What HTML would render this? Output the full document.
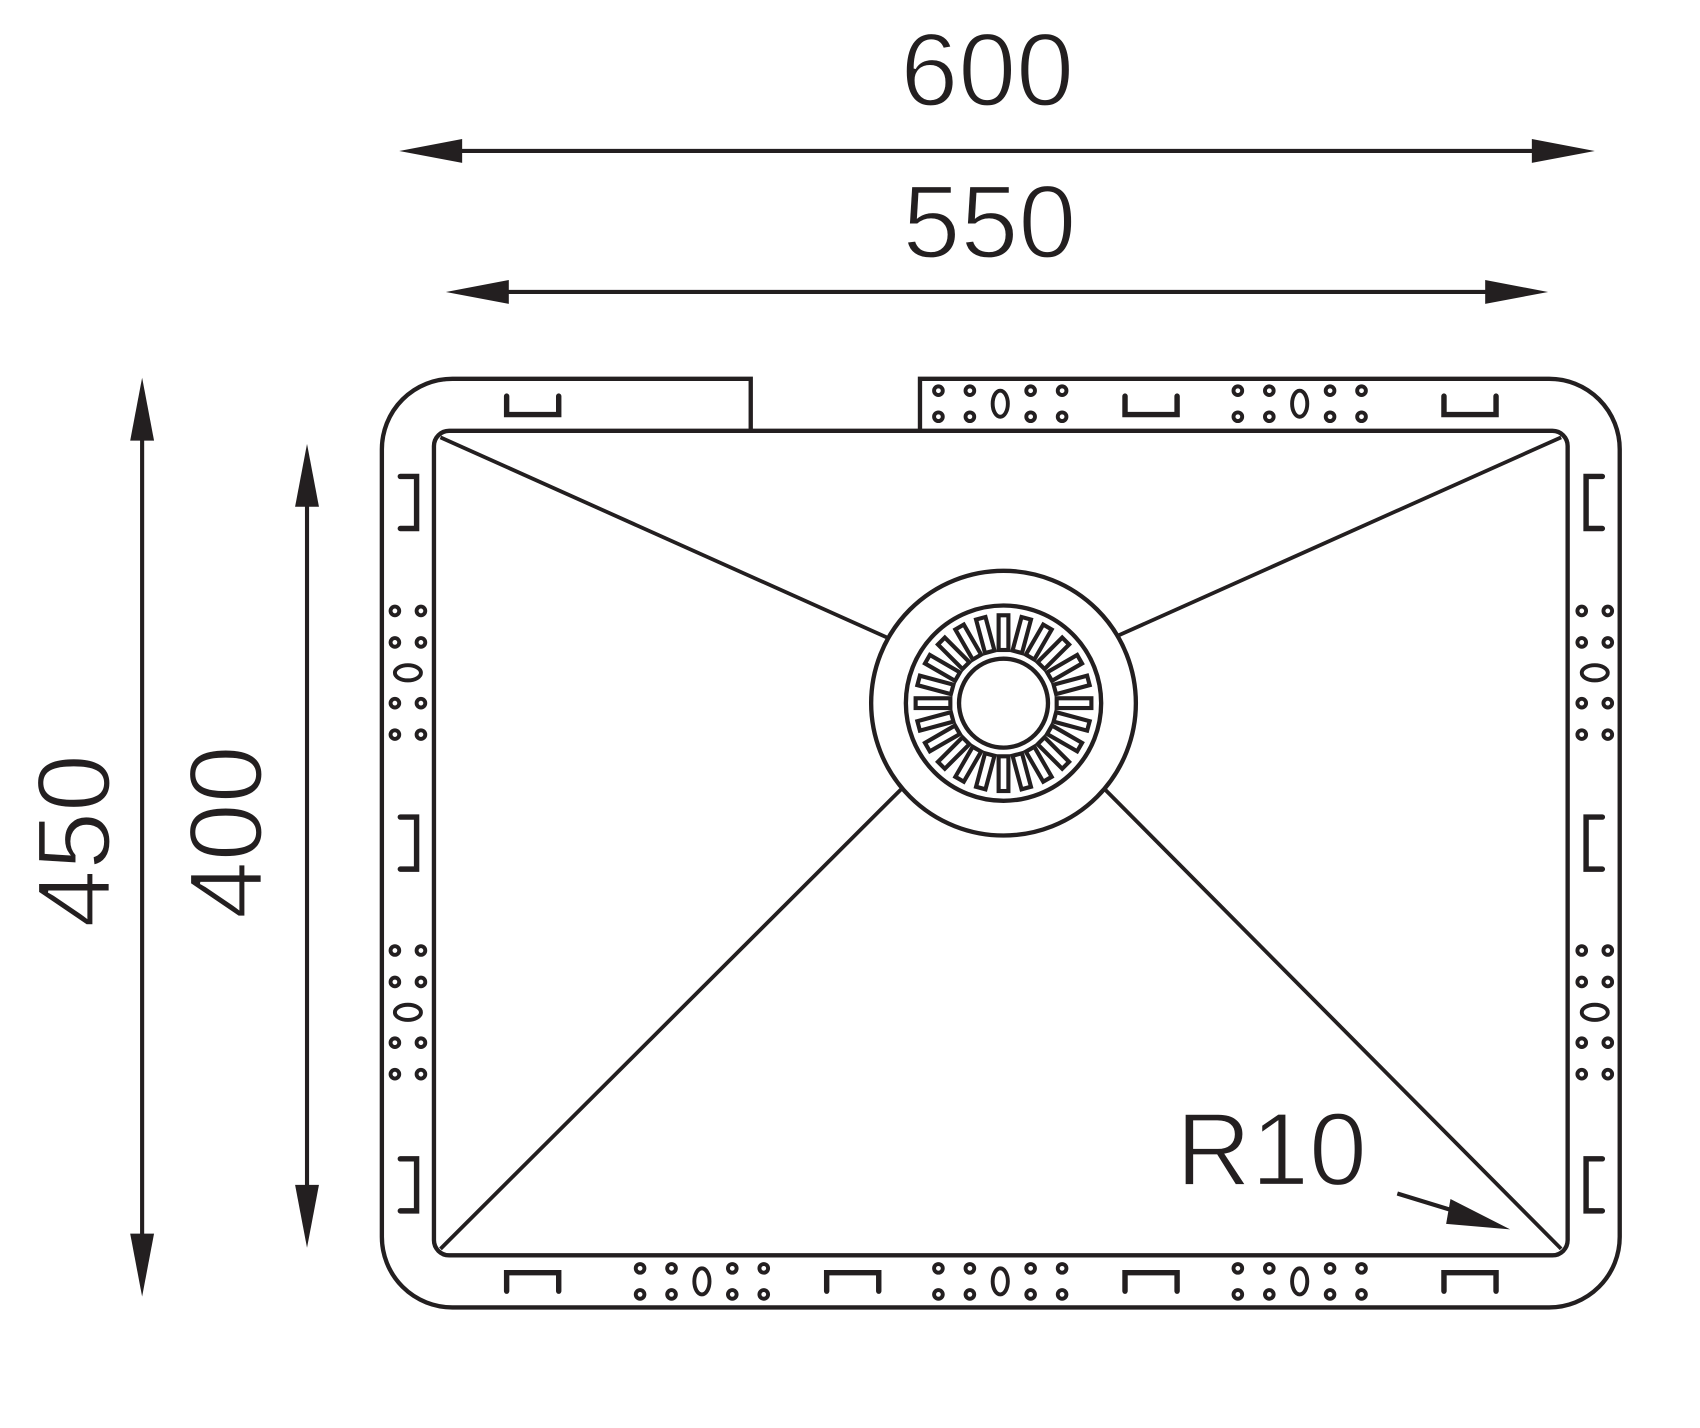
<!DOCTYPE html>
<html><head><meta charset="utf-8"><style>html,body{margin:0;padding:0;background:#fff}svg{display:block}</style></head>
<body>
<svg width="1700" height="1428" viewBox="0 0 1567 1316" xmlns="http://www.w3.org/2000/svg">
<defs>
<g id="hc">
<circle cx="-57" cy="-12" r="4"/><circle cx="-28" cy="-12" r="4"/><circle cx="28" cy="-12" r="4"/><circle cx="57" cy="-12" r="4"/>
<circle cx="-57" cy="12" r="4"/><circle cx="-28" cy="12" r="4"/><circle cx="28" cy="12" r="4"/><circle cx="57" cy="12" r="4"/>
<ellipse cx="0" cy="0" rx="7" ry="12"/>
</g>
</defs>
<g fill="none" stroke="#231f20" stroke-width="4">
<path d="M692,397 L692,349 L417,349 A65,65 0 0 0 352,414 L352,1140 A65,65 0 0 0 417,1205 L1428,1205 A65,65 0 0 0 1493,1140 L1493,414 A65,65 0 0 0 1428,349 L848,349 L848,397"/>
<rect x="400" y="397" width="1045" height="760" rx="14"/>
<line x1="406" y1="403" x2="821" y2="589" stroke-width="3.5"/>
<line x1="1439" y1="403" x2="1030" y2="586" stroke-width="3.5"/>
<line x1="406" y1="1151" x2="831" y2="727" stroke-width="3.5"/>
<line x1="1439" y1="1151" x2="1018" y2="727" stroke-width="3.5"/>
<circle cx="925" cy="648" r="122" fill="#fff"/>
<circle cx="925" cy="648" r="90"/>
<circle cx="925" cy="648" r="41"/>
</g>
<g fill="none" stroke="#231f20" stroke-width="3.8">
<g transform="translate(925,648)">
<rect x="-4.5" y="-81" width="9" height="32" transform="rotate(0)"/>
<rect x="-4.5" y="-81" width="9" height="32" transform="rotate(15)"/>
<rect x="-4.5" y="-81" width="9" height="32" transform="rotate(30)"/>
<rect x="-4.5" y="-81" width="9" height="32" transform="rotate(45)"/>
<rect x="-4.5" y="-81" width="9" height="32" transform="rotate(60)"/>
<rect x="-4.5" y="-81" width="9" height="32" transform="rotate(75)"/>
<rect x="-4.5" y="-81" width="9" height="32" transform="rotate(90)"/>
<rect x="-4.5" y="-81" width="9" height="32" transform="rotate(105)"/>
<rect x="-4.5" y="-81" width="9" height="32" transform="rotate(120)"/>
<rect x="-4.5" y="-81" width="9" height="32" transform="rotate(135)"/>
<rect x="-4.5" y="-81" width="9" height="32" transform="rotate(150)"/>
<rect x="-4.5" y="-81" width="9" height="32" transform="rotate(165)"/>
<rect x="-4.5" y="-81" width="9" height="32" transform="rotate(180)"/>
<rect x="-4.5" y="-81" width="9" height="32" transform="rotate(195)"/>
<rect x="-4.5" y="-81" width="9" height="32" transform="rotate(210)"/>
<rect x="-4.5" y="-81" width="9" height="32" transform="rotate(225)"/>
<rect x="-4.5" y="-81" width="9" height="32" transform="rotate(240)"/>
<rect x="-4.5" y="-81" width="9" height="32" transform="rotate(255)"/>
<rect x="-4.5" y="-81" width="9" height="32" transform="rotate(270)"/>
<rect x="-4.5" y="-81" width="9" height="32" transform="rotate(285)"/>
<rect x="-4.5" y="-81" width="9" height="32" transform="rotate(300)"/>
<rect x="-4.5" y="-81" width="9" height="32" transform="rotate(315)"/>
<rect x="-4.5" y="-81" width="9" height="32" transform="rotate(330)"/>
<rect x="-4.5" y="-81" width="9" height="32" transform="rotate(345)"/>
</g>
</g>
<g fill="none" stroke="#231f20" stroke-width="5" stroke-linecap="round" stroke-linejoin="miter">
<path d="M467,365 V382 H515 V365"/>
<path d="M1037,365 V382 H1085 V365"/>
<path d="M1331,365 V382 H1379 V365"/>
<path d="M467,1190 V1173 H515 V1190"/>
<path d="M762,1190 V1173 H810 V1190"/>
<path d="M1037,1190 V1173 H1085 V1190"/>
<path d="M1331,1190 V1173 H1379 V1190"/>
<path d="M369,439 H384 V487 H369"/>
<path d="M369,753 H384 V801 H369"/>
<path d="M369,1068 H384 V1116 H369"/>
<path d="M1477,439 H1462 V487 H1477"/>
<path d="M1477,753 H1462 V801 H1477"/>
<path d="M1477,1068 H1462 V1116 H1477"/>
</g>
<g fill="none" stroke="#231f20" stroke-width="3.6">
<use href="#hc" transform="translate(922,372)"/>
<use href="#hc" transform="translate(1198,372)"/>
<use href="#hc" transform="translate(647,1181)"/>
<use href="#hc" transform="translate(922,1181)"/>
<use href="#hc" transform="translate(1198,1181)"/>
<use href="#hc" transform="translate(376,620) rotate(90)"/>
<use href="#hc" transform="translate(376,933) rotate(90)"/>
<use href="#hc" transform="translate(1470,620) rotate(90)"/>
<use href="#hc" transform="translate(1470,933) rotate(90)"/>
</g>
<g stroke="#231f20" stroke-width="3.8" fill="#231f20">
<line x1="400" y1="139" x2="1440" y2="139"/>
<polygon points="368,139 426,128 426,150" stroke="none"/>
<polygon points="1470,139 1412,128 1412,150" stroke="none"/>
<line x1="440" y1="269" x2="1400" y2="269"/>
<polygon points="411,269 469,258 469,280" stroke="none"/>
<polygon points="1427,269 1369,258 1369,280" stroke="none"/>
<line x1="131" y1="380" x2="131" y2="1165"/>
<polygon points="131,348 120,406 142,406" stroke="none"/>
<polygon points="131,1195 120,1137 142,1137" stroke="none"/>
<line x1="283" y1="440" x2="283" y2="1120"/>
<polygon points="283,409 272,467 294,467" stroke="none"/>
<polygon points="283,1150 272,1092 294,1092" stroke="none"/>
<line x1="1288" y1="1100" x2="1350" y2="1119"/>
<polygon points="1392,1133 1337,1105 1333,1128" stroke="none"/>
</g>
<g font-family="Liberation Sans, sans-serif" font-size="96" fill="#231f20" text-anchor="middle" stroke="#fff" stroke-width="2">
<text x="910" y="97">600</text>
<text x="912" y="237">550</text>
<text x="1172" y="1092">R10</text>
<text transform="translate(101,775) rotate(-90)">450</text>
<text transform="translate(241,767) rotate(-90)">400</text>
</g>
</svg>
</body></html>
